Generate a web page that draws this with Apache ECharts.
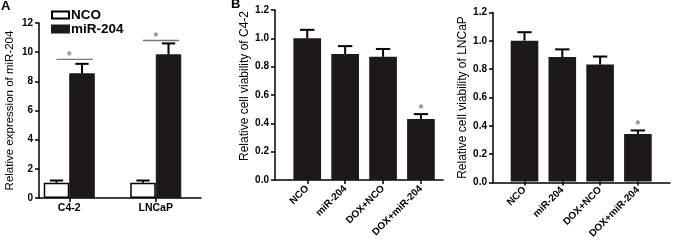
<!DOCTYPE html>
<html>
<head>
<meta charset="utf-8">
<script src="https://cdn.jsdelivr.net/npm/echarts@6/dist/echarts.min.js"></script>
<style>
  html, body { margin: 0; padding: 0; background: #fff; }
  #chart { width: 700px; height: 241px; }
</style>
</head>
<body>
<div id="chart"></div>
<script>
// panel A - miR-204 expression
const cellLines = ['C4-2', 'LNCaP'];
const ncoExpr = [1.05, 1.05];
const ncoExprErr = [0.15, 0.15];
const mirExpr = [8.55, 9.85];
const mirExprErr = [0.65, 0.75];
const sigLevel = [9.5, 10.8];

// panel B / C - cell viability
const groups = ['NCO', 'miR-204', 'DOX+NCO', 'DOX+miR-204'];
const c42Viab = [1.0, 0.89, 0.87, 0.43];
const c42Err = [0.06, 0.055, 0.055, 0.035];
const lncapViab = [1.0, 0.883, 0.83, 0.337];
const lncapErr = [0.06, 0.055, 0.057, 0.025];
const starGroup = 3;

const FONT = '"Liberation Sans", Arial, sans-serif';
const BAR = '#1d191a';
const STAR = '#8a8a8a';

let myChart = echarts.init(document.getElementById('chart'), null, {renderer: 'canvas'});

// y axis + plain x axis line (the "frame" of each panel)
function frameAxes(gi, max, interval, name, gap, pad, fs) {
  return {
    x: {
      type: 'value', gridIndex: gi, min: 0, max: 1,
      axisLine: {show: true, lineStyle: {color: '#000', width: 1.5}},
      axisTick: {show: false}, axisLabel: {show: false}, splitLine: {show: false}
    },
    y: {
      type: 'value', gridIndex: gi, min: 0, max: max, interval: interval,
      name: name, nameLocation: 'middle', nameGap: gap,
      nameTextStyle: {fontFamily: FONT, fontSize: fs, color: '#000', padding: pad},
      axisLine: {show: true, lineStyle: {color: '#000', width: 1.5}},
      axisTick: {show: true, length: 4, lineStyle: {color: '#000', width: 1.5}},
      axisLabel: {
        margin: 6, fontFamily: FONT, fontSize: 10, fontWeight: 'bold', color: '#000',
        formatter: v => interval < 1 ? v.toFixed(1) : String(v)
      },
      splitLine: {show: false}
    }
  };
}

// category axis holding the bars
function barAxes(gi, cats, max, rotate, fs) {
  return {
    x: {
      type: 'category', gridIndex: gi, data: cats,
      axisLine: {show: false},
      axisTick: {show: true, alignWithLabel: true, length: 4, lineStyle: {color: '#000', width: 1.5}},
      axisLabel: {
        interval: 0, rotate: rotate, margin: rotate ? 7 : 5,
        fontFamily: FONT, fontSize: fs, fontWeight: 'bold', color: '#000'
      }
    },
    y: {type: 'value', gridIndex: gi, min: 0, max: max, show: false}
  };
}

function errorBars(values, errs, axis, slot, slots, gap) {
  return {
    type: 'custom', xAxisIndex: axis, yAxisIndex: axis, z: 3, silent: true,
    data: values.map((v, i) => [i, v, v + errs[i]]),
    renderItem(params, api) {
      const band = api.size([1, 0])[0];
      const bw = band * (1 - gap) / slots;
      const base = api.coord([api.value(0), api.value(1)]);
      const top = api.coord([api.value(0), api.value(2)]);
      const x = base[0] + (slot - (slots - 1) / 2) * bw;
      const half = bw * 0.26;
      const st = {stroke: '#000', lineWidth: 2};
      return {type: 'group', children: [
        {type: 'line', shape: {x1: x, y1: base[1], x2: x, y2: top[1]}, style: st},
        {type: 'line', shape: {x1: x - half, y1: top[1], x2: x + half, y2: top[1]}, style: st}
      ]};
    }
  };
}

function starSeries(values, errs, axis, idx) {
  return {
    type: 'custom', xAxisIndex: axis, yAxisIndex: axis, z: 4, silent: true,
    data: [[idx, values[idx] + errs[idx]]],
    renderItem(params, api) {
      const p = api.coord([api.value(0), api.value(1)]);
      return {type: 'text', x: p[0], y: p[1] - 5,
        style: {text: '*', fill: STAR, font: 'bold 13px ' + FONT, align: 'center', verticalAlign: 'middle'}};
    }
  };
}

const gapA = 0.41, gapBC = 0.27;

const fA = frameAxes(0, 12, 2, 'Relative expression of miR-204', 23, 0, 11.5);
const bA = barAxes(1, cellLines, 12, 0, 10.5);
const fB = frameAxes(2, 1.2, 0.2, 'Relative cell viability of C4-2', 24, [0, 0, 0, 18], 12);
const bB = barAxes(3, groups, 1.2, 45, 10);
const fC = frameAxes(4, 1.2, 0.2, 'Relative cell viability of LNCaP', 24, 0, 12);
const bC = barAxes(5, groups, 1.2, 45, 10);

myChart.setOption({
  animation: false,
  title: [
    {text: 'A', left: 1, top: 0, padding: 0, textStyle: {fontFamily: FONT, fontSize: 13, fontWeight: 'bold', color: '#000'}},
    {text: 'B', left: 231, top: -2, padding: 0, textStyle: {fontFamily: FONT, fontSize: 13, fontWeight: 'bold', color: '#000'}}
  ],
  legend: {
    data: ['NCO', 'miR-204'],
    orient: 'vertical', left: 51, top: 8, padding: 0,
    itemWidth: 17, itemHeight: 7, itemGap: 0,
    icon: 'rect',
    textStyle: {fontFamily: FONT, fontSize: 13.5, fontWeight: 'bold', color: '#000', lineHeight: 14, padding: [0, 0, 0, -3]}
  },
  grid: [
    {left: 39, top: 23, width: 162, height: 175},
    {left: 26, top: 23, width: 173, height: 175},
    {left: 275, top: 10, width: 168, height: 170},
    {left: 288.3, top: 10, width: 151.6, height: 170},
    {left: 493, top: 12.5, width: 177, height: 170},
    {left: 505.6, top: 12.5, width: 151.2, height: 170}
  ],
  xAxis: [fA.x, bA.x, fB.x, bB.x, fC.x, bC.x],
  yAxis: [fA.y, bA.y, fB.y, bB.y, fC.y, bC.y],
  series: [
    {
      name: 'NCO', type: 'bar', xAxisIndex: 1, yAxisIndex: 1, data: ncoExpr,
      barGap: '0%', barCategoryGap: (gapA * 100) + '%',
      itemStyle: {color: '#fff', borderColor: '#000', borderWidth: 1.5}
    },
    {
      name: 'miR-204', type: 'bar', xAxisIndex: 1, yAxisIndex: 1, data: mirExpr,
      barGap: '0%', barCategoryGap: (gapA * 100) + '%',
      itemStyle: {color: BAR, borderColor: BAR, borderWidth: 1}
    },
    errorBars(ncoExpr, ncoExprErr, 1, 0, 2, gapA),
    errorBars(mirExpr, mirExprErr, 1, 1, 2, gapA),
    {
      // significance brackets in panel A
      type: 'custom', xAxisIndex: 1, yAxisIndex: 1, z: 4, silent: true,
      data: cellLines.map((c, i) => [i, sigLevel[i]]),
      renderItem(params, api) {
        const band = api.size([1, 0])[0];
        const bw = band * (1 - gapA) / 2;
        const p = api.coord([api.value(0), api.value(1)]);
        return {type: 'group', children: [
          {type: 'line', shape: {x1: p[0] - bw * 0.5, y1: p[1], x2: p[0] + bw * 0.92, y2: p[1]},
            style: {stroke: '#777', lineWidth: 1.3}},
          {type: 'text', x: p[0], y: p[1] - 3,
            style: {text: '*', fill: STAR, font: 'bold 12px ' + FONT, align: 'center', verticalAlign: 'middle'}}
        ]};
      }
    },
    {
      name: 'C4-2', type: 'bar', xAxisIndex: 3, yAxisIndex: 3, data: c42Viab,
      barCategoryGap: (gapBC * 100) + '%',
      itemStyle: {color: BAR}
    },
    errorBars(c42Viab, c42Err, 3, 0, 1, gapBC),
    starSeries(c42Viab, c42Err, 3, starGroup),
    {
      name: 'LNCaP', type: 'bar', xAxisIndex: 5, yAxisIndex: 5, data: lncapViab,
      barCategoryGap: (gapBC * 100) + '%',
      itemStyle: {color: BAR}
    },
    errorBars(lncapViab, lncapErr, 5, 0, 1, gapBC),
    starSeries(lncapViab, lncapErr, 5, starGroup)
  ]
});

window.addEventListener('resize', function() {
  myChart.resize();
});
</script>
</body>
</html>
